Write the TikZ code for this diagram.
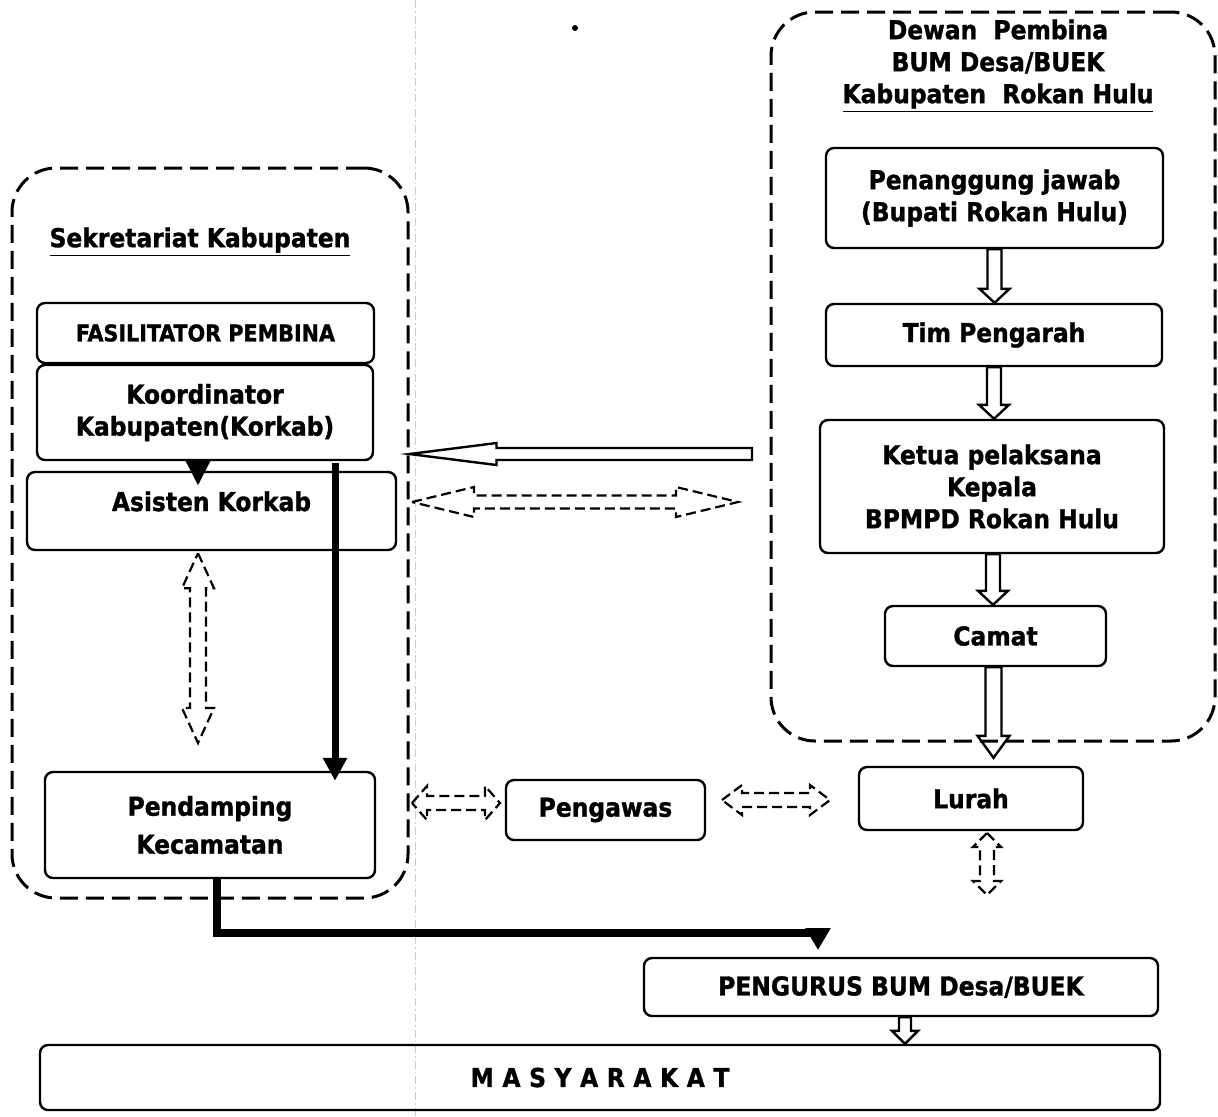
\documentclass[tikz,border=0pt]{standalone}
\usepackage{fontspec}
\setmainfont{DejaVu Sans Condensed}[BoldFeatures={FakeBold=1.2}]
\usetikzlibrary{calc,arrows.meta}

\tikzset{
	box/.style={draw, line width=1.2pt, rounded corners=4pt, inner sep=0pt, align=center, font=\bfseries\fontsize{13}{16}\selectfont},
	group/.style={draw, line width=1.5pt, dash pattern=on 9pt off 4pt, rounded corners=22pt, inner sep=0pt},
	title/.style={inner sep=0pt, align=center, font=\bfseries\fontsize{13}{16}\selectfont},
	shaftw/.store in=\shaftw, headw/.store in=\headw, headl/.store in=\headl,
	shaftw=3.5pt, headw=7.5pt, headl=7pt,
	hollow/.style={line width=1.2pt, to path={
		($(\tikztotarget)!\headl!(\tikztostart)$) coordinate (hbase)
		($(\tikztostart)!\shaftw!90:(\tikztotarget)$) -- ($(hbase)!\shaftw!90:(\tikztotarget)$)
		-- ($(hbase)!\headw!90:(\tikztotarget)$) -- (\tikztotarget)
		-- ($(hbase)!\headw!-90:(\tikztotarget)$) -- ($(hbase)!\shaftw!-90:(\tikztotarget)$)
		-- ($(\tikztostart)!\shaftw!-90:(\tikztotarget)$) -- cycle}},
	hollowtwo/.style={line width=1.1pt, dash pattern=on 5pt off 2.5pt, to path={
		($(\tikztostart)!\headl!(\tikztotarget)$) coordinate (hs)
		($(\tikztotarget)!\headl!(\tikztostart)$) coordinate (ht)
		(\tikztostart) -- ($(hs)!\headw!90:(\tikztotarget)$) -- ($(hs)!\shaftw!90:(\tikztotarget)$)
		-- ($(ht)!\shaftw!90:(\tikztotarget)$) -- ($(ht)!\headw!90:(\tikztotarget)$) -- (\tikztotarget)
		-- ($(ht)!\headw!-90:(\tikztotarget)$) -- ($(ht)!\shaftw!-90:(\tikztotarget)$)
		-- ($(hs)!\shaftw!-90:(\tikztotarget)$) -- ($(hs)!\headw!-90:(\tikztotarget)$) -- cycle}},
	heavy/.style={line width=3.5pt, -{Triangle[length=11.5pt,width=11.5pt]}}
}

\begin{document}
\begin{tikzpicture}[x=0.5pt, y=-0.5pt]
			%%%%% START %%%%%
			\useasboundingbox (0,0) rectangle (1218,1116);
			
			\draw[gray!40, line width=0.4pt, dash pattern=on 4pt off 1.5pt on 0.8pt off 1.5pt] (415,0) -- (415,1116);
			\fill (575,28) circle (3);
			
			% left group
			\node[group, minimum width=198pt, minimum height=365pt] (lc) at (210,533) {};
			\node[title] (sk) at (200,242) {\underline{Sekretariat Kabupaten}};
			\node[box, minimum width=168.5pt, minimum height=30pt, font=\bfseries\fontsize{11.5}{14}\selectfont] (fp) at (205.5,333) {FASILITATOR PEMBINA};
			\node[box, minimum width=168pt, minimum height=47.5pt] (kk) at (205,412.5) {Koordinator\\Kabupaten(Korkab)};
			\node[box, minimum width=184.5pt, text height=19.5pt, text depth=19.5pt] (ak) at (211.5,511) {Asisten Korkab};
			\node[box, minimum width=165pt, minimum height=53pt] (pd) at (210,825) {Pendamping\\[3pt]Kecamatan};
			
			% right group
			\node[group, minimum width=222pt, minimum height=364.5pt] (rc) at (993,376.5) {};
			\node[title] (dp) at (998,66) {Dewan~ Pembina\\BUM Desa/BUEK\\\underline{Kabupaten~ Rokan Hulu}};
			\node[box, minimum width=168.5pt, minimum height=50pt] (pj) at (994.5,198) {Penanggung jawab\\(Bupati Rokan Hulu)};
			\node[box, minimum width=168pt, minimum height=31pt] (tp) at (994,335) {Tim Pengarah};
			\node[box, minimum width=172pt, minimum height=66.5pt] (kp) at (992,486.5) {Ketua pelaksana\\Kepala\\BPMPD Rokan Hulu};
			\node[box, minimum width=110.5pt, minimum height=30pt] (cm) at (995.5,636) {Camat};
			
			% bottom
			\node[box, minimum width=112pt, minimum height=31.5pt] (lu) at (971,798.5) {Lurah};
			\node[box, minimum width=99.5pt, minimum height=30pt] (pw) at (605.5,810) {Pengawas};
			\node[box, minimum width=257pt, minimum height=29pt] (pg) at (901,987) {PENGURUS BUM Desa/BUEK};
			\node[box, minimum width=560pt, minimum height=32.5pt] (ms) at (600,1077.5) {\spaceskip=0.33em M A S Y A R A K A T};
			
			% block arrows
			\draw[hollow] (pj.south) to (pj.south |- tp.north);
			\draw[hollow] (tp.south) to (tp.south |- kp.north);
			\draw[hollow] ($(kp.south)+(1,0)$) coordinate (ka) to (ka |- cm.north);
			\draw[hollow, shaftw=4pt, headw=8pt, headl=11pt] ($(cm.south)+(-2,0)$) coordinate (kc) to ($(kc |- lu.north)+(0,-8)$);
			\draw[hollow, shaftw=3pt, headw=6.5pt, headl=6.5pt] ($(pg.south)+(4,0)$) coordinate (kd) to (kd |- ms.north);
			\coordinate (src) at (752,454);
			\draw[hollow, shaftw=3pt, headw=5.5pt, headl=43.5pt] (src) to (lc.east |- src);
			
			% dashed double arrows
			\coordinate (da) at (412,502);
			\coordinate (db) at (738,502);
			\draw[hollowtwo, shaftw=3.25pt, headw=7.5pt, headl=31pt] (da) to (db);
			\coordinate (dc) at (198,743);
			\draw[hollowtwo, shaftw=4pt, headw=8pt, headl=17.5pt] ($(ak.south -| dc)+(0,2)$) to (dc);
			\coordinate (dd) at (412,803);
			\coordinate (de) at (500,803);
			\draw[hollowtwo, shaftw=3.5pt, headw=8.5pt, headl=7.5pt] (dd) to (de);
			\coordinate (df) at (722,800);
			\coordinate (dg) at (830,800);
			\draw[hollowtwo, shaftw=3.5pt, headw=7.5pt, headl=10pt] (df) to (dg);
			\coordinate (dh) at (987,833);
			\coordinate (di) at (987,895);
			\draw[hollowtwo, shaftw=3.5pt, headw=7pt, headl=7pt] (dh) to (di);
			
			% black arrows
			\coordinate (ba) at ($(kk.south)+(-7,0)$);
			\draw[heavy, line width=4.5pt, -{Triangle[length=12.5pt,width=11.5pt]}] (ba) -- ($(ba |- ak.north)+(0,15)$);
			\coordinate (bb) at ($(kk.south)+(130,2)$);
			\draw[heavy] (bb) -- ($(bb |- pd.north)+(0,10)$);
			\coordinate (bc) at ($(pd.south)+(7,0)$);
			\coordinate (bd) at (818,933);
			\draw[heavy, line width=4pt, -{Triangle[length=11pt,width=12pt]}] (bc) |- (bd) -- ($(bd)+(0,17)$);
			
			%%%%% END %%%%%
\end{tikzpicture}
\end{document}
